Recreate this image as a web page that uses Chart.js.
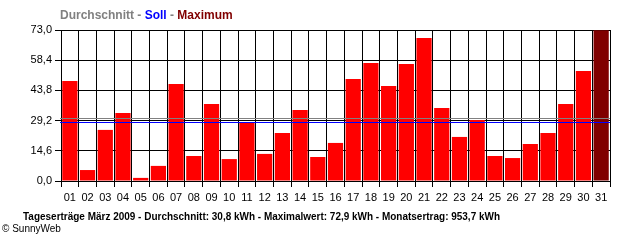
<!DOCTYPE html>
<html>
<head>
<meta charset="utf-8">
<script src="https://cdn.jsdelivr.net/npm/chart.js@4"></script>
<style>
  html, body { margin: 0; padding: 0; background: #fff; }
  #wrap { width: 640px; height: 240px; position: relative; }
</style>
</head>
<body>
<div id="wrap"><canvas id="yieldChart"></canvas></div>
<script>
    const days = ["01","02","03","04","05","06","07","08","09","10","11","12","13","14","15","16",
                  "17","18","19","20","21","22","23","24","25","26","27","28","29","30","31"];
    const yields = [48.4, 5.3, 24.7, 32.9, 1.5, 7.3, 46.9, 12.1, 37.2, 10.6, 28.2, 13.1, 23.2, 34.3, 11.6, 18.4,
                    49.3, 57.1, 45.9, 56.6, 69.1, 35.3, 21.3, 29.5, 12.1, 11.1, 17.9, 23.2, 37.2, 53.2, 72.9];
    const yTicks = [0, 14.6, 29.2, 43.8, 58.4, 73.0];
    const averageValue = 30.4;
    const targetValue = 28.4;
    const headerParts = [["Durchschnitt", "#808080"], [" - ", "#808080"], ["Soll", "#0000ff"], [" - ", "#808080"], ["Maximum", "#800000"]];
    const caption = "Tageserträge März 2009 - Durchschnitt: 30,8 kWh - Maximalwert: 72,9 kWh - Monatsertrag: 953,7 kWh";
    const copyright = "© SunnyWeb";

    const maxYield = Math.max(...yields);
    const barColors = yields.map(v => v === maxYield ? '#800000' : '#ff0000');

    // average / target lines across the whole plot, plus header and caption text
    const extras = {
        id: 'extras',
        afterDatasetsDraw(chart) {
            const { ctx, chartArea, scales } = chart;
            ctx.save();
            [[averageValue, '#808080'], [targetValue, '#0000ff']].forEach(([v, c]) => {
                const y = Math.round(scales.y.getPixelForValue(v)) + 0.5;
                ctx.strokeStyle = c;
                ctx.lineWidth = 1;
                ctx.beginPath();
                ctx.moveTo(chartArea.left - 1, y);
                ctx.lineTo(chartArea.right, y);
                ctx.stroke();
            });
            ctx.restore();
        },
        afterDraw(chart) {
            const ctx = chart.ctx;
            ctx.save();
            ctx.textBaseline = 'middle';
            ctx.font = "bold 12px 'Liberation Sans'";
            let x = 60;
            headerParts.forEach(([t, c]) => {
                ctx.fillStyle = c;
                ctx.fillText(t, x, 16);
                x += ctx.measureText(t).width;
            });
            ctx.fillStyle = '#000';
            ctx.font = "bold 11px 'Liberation Sans'";
            // the original caption font is narrow, squeeze it to the same width
            const w = ctx.measureText(caption).width;
            ctx.save();
            ctx.translate(23, 217);
            ctx.scale(477 / w, 1);
            ctx.fillText(caption, 0, 0);
            ctx.restore();
            ctx.font = "10px 'Liberation Sans'";
            ctx.fillText(copyright, 2, 229);
            ctx.restore();
        }
    };

    const ctxYield = document.getElementById('yieldChart').getContext('2d');
    new Chart(ctxYield, {
        type: 'bar',
        data: {
            labels: days,
            datasets: [{
                label: 'Tagesertrag',
                data: yields,
                backgroundColor: barColors,
                borderWidth: 0,
                categoryPercentage: 1.0,
                barPercentage: 0.86
            }]
        },
        options: {
            responsive: true,
            maintainAspectRatio: false,
            animation: false,
            layout: { padding: { top: 30, right: 30, left: 0, bottom: 0 } },
            plugins: {
                legend: { display: false },
                tooltip: { enabled: false }
            },
            scales: {
                x: {
                    afterFit: s => { s.height = 59; },
                    grid: { color: '#000', lineWidth: 1, tickLength: 6, offset: true },
                    border: { color: '#000' },
                    ticks: { color: '#000', padding: 4, maxRotation: 0, autoSkip: false,
                             font: { family: "'Liberation Sans', sans-serif", size: 11 } }
                },
                y: {
                    min: 0,
                    max: 73,
                    afterFit: s => { s.width = 61; },
                    afterBuildTicks: s => { s.ticks = yTicks.map(v => ({ value: v })); },
                    grid: { color: '#000', lineWidth: 1, tickLength: 6 },
                    border: { color: '#000' },
                    ticks: {
                        color: '#000', padding: 3,
                        font: { family: "'Liberation Sans', sans-serif", size: 11 },
                        callback: v => v.toFixed(1).replace('.', ',')
                    }
                }
            }
        },
        plugins: [extras]
    });
</script>
</body>
</html>
